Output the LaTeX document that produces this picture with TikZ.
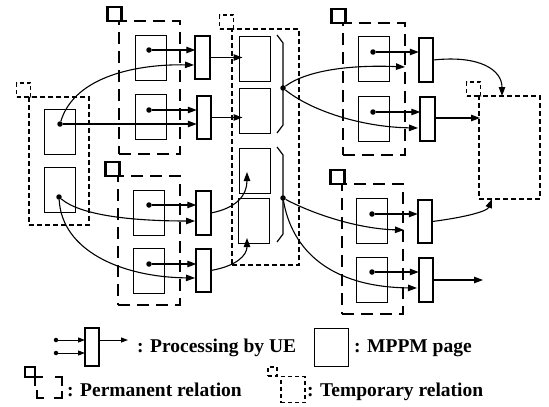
\documentclass[tikz,border=0pt]{standalone}
\usepackage{fontspec}
\setmainfont{Liberation Serif}
\usetikzlibrary{arrows.meta,calc}
\begin{document}
\begin{tikzpicture}[x=1pt,y=-1pt,
 page/.style={draw,line width=1pt,minimum width=31pt,minimum height=45pt,inner sep=0pt,outer sep=0pt},
 ue/.style={draw,line width=2.2pt,minimum width=14.5pt,minimum height=43.5pt,inner sep=0pt,outer sep=0pt},
 perm/.style={draw,line width=2.6pt,dash pattern=on 12pt off 7pt,inner sep=0pt,outer sep=0pt},
 temp/.style={draw,line width=1.2pt,dash pattern=on 5pt off 3pt,inner sep=0pt,outer sep=0pt},
 permsq/.style={draw,line width=2.6pt,minimum size=14pt,inner sep=0pt,outer sep=0pt},
 tempsq/.style={draw,line width=1.2pt,dash pattern=on 4pt off 3pt,minimum size=14pt,inner sep=0pt,outer sep=0pt},
 dot/.style={circle,fill,inner sep=0pt,minimum size=5.5pt},
 arr/.style={line width=1.1pt,-{Triangle[length=9pt,width=6.5pt]}},
 arrs/.style={line width=1pt,-{Triangle[length=7pt,width=5pt]}},
 brace/.style={line width=1.2pt},
 lbl/.style={font=\fontsize{19.5}{22}\selectfont\bfseries,anchor=base west,inner sep=0pt}
]
\fill[white] (0,0) rectangle (549,407);
\useasboundingbox (0,0) rectangle (549,407);

% ---- relation boxes ----
\node[temp,minimum width=60pt,minimum height=128pt] (gL) at (59,161) {};
\node[perm,minimum width=61pt,minimum height=133pt] (gA1) at (149.5,87.5) {};
\node[perm,minimum width=62pt,minimum height=129pt] (gA2) at (149,240.5) {};
\node[temp,minimum width=67pt,minimum height=236pt] (gM) at (265.5,147) {};
\node[perm,minimum width=62pt,minimum height=132pt] (gB1) at (374,89) {};
\node[perm,minimum width=61pt,minimum height=130pt] (gB2) at (372.5,249) {};
\node[temp,minimum width=61pt,minimum height=103pt] (gR) at (509.5,147.5) {};

% ---- markers ----
\node[tempsq,anchor=south east] (qL) at ($(gL.north west)+(1.5,0)$) {};
\node[permsq,anchor=south east] (qA1) at ($(gA1.north west)+(2.5,0)$) {};
\node[permsq,anchor=south east] (qA2) at ($(gA2.north west)+(1.5,0)$) {};
\node[tempsq,anchor=south east] (qM) at ($(gM.north west)+(1.5,0)$) {};
\node[permsq,anchor=south east] (qB1) at ($(gB1.north west)+(2.5,0)$) {};
\node[permsq,anchor=south east] (qB2) at ($(gB2.north west)+(2.5,0)$) {};
\node[tempsq,anchor=south east] (qR) at ($(gR.north west)+(1.5,0)$) {};

% ---- pages ----
\node[page] (l1) at (59.5,131.5) {};
\node[page] (l2) at (59.5,190) {};
\node[page] (a1p1) at (150.5,58) {};
\node[page] (a1p2) at (150.5,117) {};
\node[page] (a2p1) at (148.5,212.5) {};
\node[page] (a2p2) at (148.5,270.5) {};
\node[page] (m1) at (255,59) {};
\node[page] (m2) at (255,110.5) {};
\node[page] (m3) at (254.5,170.5) {};
\node[page] (m4) at (254,220.5) {};
\node[page] (b1p1) at (373.5,59) {};
\node[page] (b1p2) at (373.5,119) {};
\node[page] (b2p1) at (372,221) {};
\node[page] (b2p2) at (372,279.5) {};

% ---- UE rectangles ----
\node[ue] (a1r1) at (202.5,57.5) {};
\node[ue] (a1r2) at (204,117.5) {};
\node[ue] (a2r1) at (203.5,213) {};
\node[ue] (a2r2) at (203.5,270.5) {};
\node[ue] (b1r1) at (426,60) {};
\node[ue] (b1r2) at (427.5,119) {};
\node[ue] (b2r1) at (425,221.5) {};
\node[ue] (b2r2) at (426,280) {};

% ---- dots ----
\node[dot] (dl1) at (60,124) {};
\node[dot] (dl2) at (59,197) {};
\node[dot] (da1a) at (149,50) {};
\node[dot] (da1b) at (149,110) {};
\node[dot] (da2a) at (149,205) {};
\node[dot] (da2b) at (149,264) {};
\node[dot] (db1a) at (373,52) {};
\node[dot] (db1b) at (373,112) {};
\node[dot] (db2a) at (372,214) {};
\node[dot] (db2b) at (372,272) {};

% ---- braces in M ----
\draw[brace] (277,35) -- (283,43) -- (283,125) -- (277,133);
\draw[brace] (277,147) -- (283,155) -- (283,234) -- (277,242);
\node[dot] (bt) at (283,88) {};
\node[dot] (bb) at (283,198) {};

% ---- free ends ----
\coordinate (eA1a) at (194,65);
\coordinate (eA2a) at (195,221);
\coordinate (eA2b) at (195,278);
\coordinate (eM3) at (247,172);
\coordinate (eM4) at (247,238);
\coordinate (eB1a) at (405,67);
\coordinate (eB1b) at (418,128);
\coordinate (eB2a) at (404,230);
\coordinate (eB2b) at (417,288);
\coordinate (eR1) at (502,96);
\coordinate (eR2) at (480,118);
\coordinate (eR3) at (492,199);
\coordinate (eOut) at (483,280);

% ---- dot to UE arrows ----
\draw[arr] (da1a) -- (a1r1.west |- da1a);
\draw[arr] (da1b) -- (a1r2.west |- da1b);
\draw[arr] (da2a) -- (a2r1.west |- da2a);
\draw[arr] (da2b) -- (a2r2.west |- da2b);
\draw[arr] (db1a) -- (b1r1.west |- db1a);
\draw[arr] (db1b) -- (b1r2.west |- db1b);
\draw[arr] (db2a) -- (b2r1.west |- db2a);
\draw[arr] (db2b) -- (b2r2.west |- db2b);

% ---- L to A ----
\draw[arr] (dl1) .. controls (75,75) and (140,64) .. (eA1a);
\draw[arr] (dl1) -- (a1r2.west |- dl1);
\draw[arr] (dl2) .. controls (80,215) and (130,221) .. (eA2a);
\draw[arr] (dl2) .. controls (62,250) and (120,277) .. (eA2b);

% ---- A to M ----
\draw[arr] (a1r1.east) -- ($(m1.west |- a1r1.east)+(3,0)$);
\draw[arr] (a1r2.east) -- ($(m2.west |- a1r2.east)+(3,0)$);
\draw[arr] (a2r1.east) .. controls (237,208) and (247,195) .. (eM3);
\draw[arr] (a2r2.east) .. controls (237,266) and (247,255) .. (eM4);

% ---- M to B ----
\draw[arr] (bt) .. controls (310,68) and (360,65) .. (eB1a);
\draw[arr] (bt) .. controls (310,110) and (360,127) .. (eB1b);
\draw[arr] (bb) .. controls (315,215) and (360,229) .. (eB2a);
\draw[arr] (bb) .. controls (292,250) and (330,287) .. (eB2b);

% ---- B to R ----
\draw[arr] (b1r1.east) .. controls (480,55) and (502,70) .. (eR1);
\draw[arr] (b1r2.east |- eR2) -- (eR2);
\draw[arr] (b2r1.east) .. controls (460,218) and (487,212) .. (eR3);
\draw[arr] (b2r2.east |- eOut) -- (eOut);

% ---- legend ----
\node[dot,minimum size=4.5pt] (ld1) at (56,340) {};
\node[dot,minimum size=4.5pt] (ld2) at (56,353) {};
\node[ue,minimum width=14pt,minimum height=38pt] (lr) at (92,347) {};
\coordinate (lo) at (128,340);
\draw[arrs] (ld1) -- (lr.west |- ld1);
\draw[arrs] (ld2) -- (lr.west |- ld2);
\draw[arrs] (lr.east |- lo) -- (lo);
\node[lbl] (t1) at (137,352) {: Processing by UE};
\node[page,minimum width=34pt,minimum height=38pt] (lp) at (331.5,347) {};
\node[lbl] (t2) at (354,352) {: MPPM page};

\node[permsq,minimum size=10pt,line width=2.2pt,anchor=south west] (lq) at (25,377) {};
\draw[line width=2.2pt] (25,377) -- (43,377);
\draw[line width=2.2pt] (35,377) -- (35,386);
\draw[line width=2.2pt] (55,377) -- (62,377) -- (62,386);
\draw[line width=2.2pt] (37,390) -- (37,398) -- (44,398);
\draw[line width=2.2pt] (54,398) -- (62,398) -- (62,391);
\node[lbl] (t3) at (67,396) {: Permanent relation};

\node[tempsq,minimum size=9pt,line width=1.1pt,anchor=south west] (lt) at (268,376) {};
\node[temp,line width=1.1pt,dash pattern=on 4pt off 3pt,minimum width=24pt,minimum height=26pt] (ltb) at (293,389.5) {};
\node[lbl] (t4) at (307,396) {: Temporary relation};
\end{tikzpicture}
\end{document}
